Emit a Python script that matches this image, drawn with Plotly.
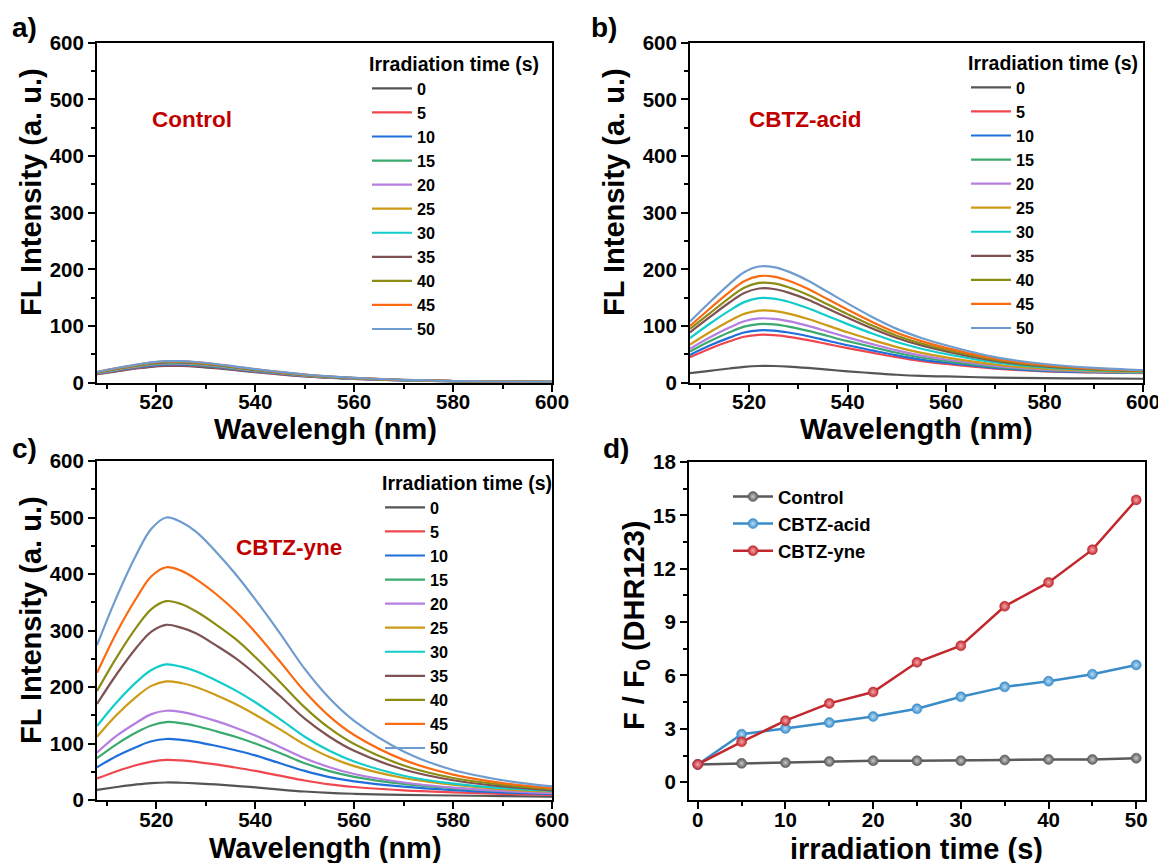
import plotly.graph_objects as go

# wavelength grid (nm) and irradiation times (s)
wl = [508, 512, 516, 519, 522, 525, 528, 532, 536, 540, 545, 550, 555, 560, 570, 580, 590, 600]
times = [0, 5, 10, 15, 20, 25, 30, 35, 40, 45, 50]

# a) Control spectra
ctrl_0 = [15, 20, 25, 28, 29.5, 29.5, 28.5, 25.5, 22, 18.5, 14.5, 11, 8.5, 6.5, 4, 2.5, 1.5, 1]
ctrl_5 = [15.7, 21.1, 26.3, 29.4, 31, 31, 29.9, 26.9, 23.2, 19.5, 15.3, 11.6, 9, 6.9, 4.2, 2.6, 1.6, 1.1]
ctrl_10 = [16.2, 21.7, 27, 30.3, 32, 32, 30.8, 27.7, 23.9, 20.1, 15.8, 12, 9.2, 7.1, 4.3, 2.6, 1.6, 1.1]
ctrl_15 = [16.6, 22.5, 27.9, 31.3, 33, 33, 31.8, 28.6, 24.7, 20.8, 16.3, 12.4, 9.5, 7.3, 4.4, 2.7, 1.7, 1.2]
ctrl_20 = [17.1, 23.2, 28.7, 32.2, 34, 34, 32.7, 29.5, 25.4, 21.4, 16.9, 12.9, 9.8, 7.6, 4.5, 2.8, 1.8, 1.3]
ctrl_25 = [17.6, 23.9, 29.6, 33.2, 35, 35, 33.7, 30.4, 26.2, 22.1, 17.4, 13.3, 10.1, 7.8, 4.7, 2.8, 1.8, 1.3]
ctrl_30 = [17.8, 24.3, 30, 33.7, 35.5, 35.5, 34.2, 30.8, 26.6, 22.4, 17.7, 13.5, 10.3, 7.9, 4.7, 2.9, 1.9, 1.4]
ctrl_35 = [18, 24.6, 30.3, 34.1, 36, 36, 34.6, 31.2, 26.9, 22.7, 17.9, 13.7, 10.4, 8, 4.8, 2.9, 1.9, 1.4]
ctrl_40 = [18.3, 24.9, 30.7, 34.6, 36.5, 36.5, 35.1, 31.7, 27.3, 23, 18.2, 13.9, 10.6, 8.1, 4.8, 2.9, 1.9, 1.4]
ctrl_45 = [18.8, 25.6, 31.6, 35.5, 37.5, 37.5, 36, 32.5, 28.1, 23.7, 18.7, 14.3, 10.9, 8.4, 4.9, 3, 2, 1.5]
ctrl_50 = [19, 26, 32, 36, 38, 38, 36.5, 33, 28.5, 24, 19, 14.5, 11, 8.5, 5, 3, 2, 1.5]

# b) CBTZ-acid spectra
acid_0 = [17, 21, 25, 28, 29.5, 29.5, 28.5, 26, 23, 20, 17, 14, 12, 11, 9, 8, 7.5, 7]
acid_5 = [45, 60, 73, 81, 84.5, 84, 81, 75, 68, 61, 53, 45, 38, 33, 25, 20, 18, 17]
acid_10 = [49, 65.5, 79.5, 88.5, 92.5, 92, 88.6, 82, 74, 66, 57, 48.3, 40.7, 35.2, 26.3, 20.9, 18.5, 17.3]
acid_15 = [55, 73, 89, 99, 103.4, 102.8, 99, 91.5, 82.4, 73.4, 63, 52.9, 44.4, 38.2, 28.1, 22, 19.3, 17.8]
acid_20 = [60, 79.7, 97.2, 108.4, 113.4, 112.8, 108.6, 100.2, 90.1, 80, 68.1, 57, 47.8, 40.9, 29.8, 23.1, 19.9, 18.2]
acid_25 = [67.4, 89.1, 108.9, 121.5, 127.3, 126.6, 121.8, 112.3, 100.7, 89, 75.4, 62.8, 52.6, 44.7, 32.1, 24.6, 20.8, 18.8]
acid_30 = [78.8, 104, 127.2, 142.2, 149.2, 148.4, 142.8, 131.4, 117.4, 103.4, 86.8, 71.9, 60, 50.7, 35.7, 27, 22.3, 19.7]
acid_35 = [89, 115.6, 141.5, 158.3, 166.2, 165.4, 159, 146.2, 130.4, 114.6, 95.7, 78.9, 65.8, 55.4, 38.6, 28.8, 23.4, 20.4]
acid_40 = [95, 122.3, 149.8, 167.6, 176.1, 175.2, 168.4, 154.8, 137.9, 121, 100.9, 83, 69.2, 58.1, 40.2, 29.9, 24.1, 20.8]
acid_45 = [100, 130.5, 159.9, 179, 188.1, 187.2, 179.9, 165.3, 147.1, 128.9, 107.2, 88, 73.3, 61.4, 42.2, 31.2, 24.9, 21.3]
acid_50 = [108, 142, 174, 195, 205, 204, 196, 180, 160, 140, 116, 95, 79, 66, 45, 33, 26, 22]

# c) CBTZ-yne spectra
yne_0 = [18, 23, 27.5, 30, 31, 30.5, 29.5, 27.5, 25, 22.5, 18.5, 15, 12.5, 11, 9, 8, 7, 6]
yne_5 = [38, 51, 62, 68, 71, 70, 67.5, 63, 57.5, 51.5, 43, 34.5, 27.5, 23, 17, 13.5, 11, 9]
yne_10 = [58, 78, 94, 104, 108, 106.5, 103, 96, 88, 79, 65, 51.5, 40.5, 33, 23.5, 17.5, 13.5, 11]
yne_15 = [74, 99, 120, 132, 138, 136, 131, 122, 112, 100, 83, 65, 51, 41, 28.5, 21, 16, 13]
yne_20 = [84, 114, 137, 152, 158, 156, 150, 140, 128, 114, 94, 74, 58, 46, 31, 22, 16, 12]
yne_25 = [112, 151, 183, 202, 210, 207, 200, 186, 170, 151, 125, 98, 76, 60, 39, 27, 19, 15]
yne_30 = [131, 173, 209, 230, 240, 236, 228, 212, 194, 173, 143, 112, 87, 68, 43, 29, 21, 16]
yne_35 = [170, 223, 270, 298, 310, 305, 295, 274, 251, 223, 184, 144, 112, 87, 54, 35, 24, 17]
yne_40 = [193, 253, 306, 338, 352, 347, 334, 311, 285, 253, 209, 164, 127, 99, 61, 39, 27, 19]
yne_45 = [225, 297, 358, 396, 412, 406, 391, 365, 334, 297, 245, 192, 148, 115, 71, 45, 30, 21]
yne_50 = [274, 360, 435, 480, 500, 492, 475, 440, 400, 355, 295, 232, 180, 140, 86, 53, 35, 24]

# d) F/F0 vs irradiation time
f_control = [1.0, 1.06, 1.1, 1.17, 1.21, 1.21, 1.21, 1.25, 1.28, 1.28, 1.35]
f_acid = [1.0, 2.7, 3.02, 3.35, 3.69, 4.13, 4.8, 5.36, 5.68, 6.07, 6.59]
f_yne = [1.0, 2.27, 3.46, 4.43, 5.07, 6.74, 7.67, 9.89, 11.23, 13.07, 15.87]

control_spectra = [ctrl_0, ctrl_5, ctrl_10, ctrl_15, ctrl_20, ctrl_25, ctrl_30, ctrl_35, ctrl_40, ctrl_45, ctrl_50]
acid_spectra = [acid_0, acid_5, acid_10, acid_15, acid_20, acid_25, acid_30, acid_35, acid_40, acid_45, acid_50]
yne_spectra = [yne_0, yne_5, yne_10, yne_15, yne_20, yne_25, yne_30, yne_35, yne_40, yne_45, yne_50]

colors = ['#555555', '#F0474F', '#1F6FDB', '#3BAA6E', '#B57EE0', '#CC9A14',
          '#12CCCC', '#7E5252', '#8C8C14', '#FA6A12', '#6E9CCF']

W, H = 1166, 863
OFF = 8  # page body margin of the html page
FONT = 'Arial, Liberation Sans, sans-serif'


def px_x(p):
    return (p - OFF) / W


def px_y(p):
    return 1 - (p - OFF) / H


fig = go.Figure()

panels = [
    ('x', 'y', 'legend', control_spectra),
    ('x2', 'y2', 'legend2', acid_spectra),
    ('x3', 'y3', 'legend3', yne_spectra),
]
for xa, ya, leg, spectra in panels:
    for t, vals, col in zip(times, spectra, colors):
        fig.add_trace(go.Scatter(
            x=wl, y=vals, name=str(t), mode='lines', xaxis=xa, yaxis=ya,
            legend=leg, line=dict(color=col, width=2.2, shape='spline', smoothing=1.0)
        ))

# panel d
series_d = [('Control', f_control, '#5a5a5a', '#c8c8c8'),
            ('CBTZ-acid', f_acid, '#3a8cc9', '#b8dcf5'),
            ('CBTZ-yne', f_yne, '#c1272d', '#f3a9ac')]
for name, vals, col, light in series_d:
    fig.add_trace(go.Scatter(
        x=times, y=vals, name=name, mode='lines+markers', xaxis='x4', yaxis='y4',
        legend='legend4', line=dict(color=col, width=2.5),
        marker=dict(size=10, color=col, line=dict(color=col, width=0.5),
                    gradient=dict(type='radial', color=light))
    ))

ax_common = dict(showline=True, linewidth=2, linecolor='black', mirror=True, automargin=False,
                 ticks='outside', ticklen=7, tickwidth=2, tickcolor='black',
                 showgrid=False, zeroline=False,
                 tickfont=dict(size=20.5, family=FONT, color='black', weight='bold'))
x_common = dict(ax_common, ticklabelstandoff=-7)

spec_x = dict(x_common, range=[508, 600], tick0=0, dtick=20,
              minor=dict(ticks='outside', ticklen=4, tickwidth=1.5, dtick=10, tick0=0))
spec_y = dict(ax_common, range=[0, 600], tick0=0, dtick=100,
              minor=dict(ticks='outside', ticklen=4, tickwidth=1.5, dtick=50, tick0=0))

top = [px_y(382.7), px_y(42.7)]
bot = [px_y(800), px_y(461)]

fig.update_layout(
    width=W, height=H,
    margin=dict(l=0, r=0, t=0, b=0),
    plot_bgcolor='white', paper_bgcolor='white',
    font=dict(family=FONT, color='black', weight='bold'),
    xaxis=dict(spec_x, domain=[px_x(97), px_x(552)], anchor='y'),
    yaxis=dict(spec_y, domain=top, anchor='x'),
    xaxis2=dict(spec_x, domain=[px_x(690), px_x(1143)], anchor='y2'),
    yaxis2=dict(spec_y, domain=top, anchor='x2'),
    xaxis3=dict(spec_x, domain=[px_x(97), px_x(552)], anchor='y3'),
    yaxis3=dict(spec_y, domain=bot, anchor='x3'),
    xaxis4=dict(x_common, domain=[px_x(689), px_x(1145)], anchor='y4', range=[-1, 51],
                tick0=0, dtick=10, minor=dict(ticks='outside', ticklen=4, tickwidth=1.5, dtick=5, tick0=0)),
    yaxis4=dict(ax_common, domain=[px_y(800), px_y(462)], anchor='x4', range=[-1, 18],
                tick0=0, dtick=3, minor=dict(ticks='outside', ticklen=4, tickwidth=1.5, dtick=1.5, tick0=0)),
)

leg_common = dict(xanchor='left', yanchor='top', bgcolor='rgba(0,0,0,0)', borderwidth=0,
                  itemwidth=40, tracegroupgap=0, font=dict(size=16.2, family=FONT, weight='bold'),
                  title=dict(text='Irradiation time (s)', font=dict(size=19.5, family=FONT, weight='bold')))
fig.update_layout(
    legend=dict(leg_common, x=px_x(367), y=px_y(46)),
    legend2=dict(leg_common, x=px_x(966), y=px_y(45)),
    legend3=dict(leg_common, x=px_x(380), y=px_y(465)),
    legend4=dict(xanchor='left', yanchor='top', bgcolor='rgba(0,0,0,0)', borderwidth=0,
                 itemwidth=40, font=dict(size=18.5, family=FONT, weight='bold'),
                 x=px_x(728), y=px_y(478)),
)

ann = []
# panel letters
for txt, x, y in [('a)', 24, 28), ('b)', 604, 28), ('c)', 24, 448), ('d)', 616, 448)]:
    ann.append(dict(text=txt, x=px_x(x), y=px_y(y), showarrow=False,
                    font=dict(size=28, weight='bold')))
# sample names
for txt, x, y in [('Control', 192, 119), ('CBTZ-acid', 805, 119), ('CBTZ-yne', 289, 547)]:
    ann.append(dict(text=txt, x=px_x(x), y=px_y(y), showarrow=False,
                    font=dict(size=22.5, color='#C00000', weight='bold')))
# axis titles
for txt, x, y, ang in [('FL Intensity (a. u.)', 31, 192, -90), ('FL Intensity (a. u.)', 614, 192, -90),
                       ('FL Intensity (a. u.)', 31, 620, -90), ('F / F<sub>0</sub> (DHR123)', 636, 625, -90),
                       ('Wavelengh (nm)', 325, 429, 0), ('Wavelength (nm)', 916, 429, 0),
                       ('Wavelength (nm)', 325, 848, 0), ('irradiation time (s)', 916, 849, 0)]:
    ann.append(dict(text=txt, x=px_x(x), y=px_y(y), showarrow=False, textangle=ang,
                    font=dict(size=29, weight='bold')))
for a in ann:
    a.update(xref='paper', yref='paper', xanchor='center', yanchor='middle')
fig.update_layout(annotations=ann)

fig.write_html("out.html")
